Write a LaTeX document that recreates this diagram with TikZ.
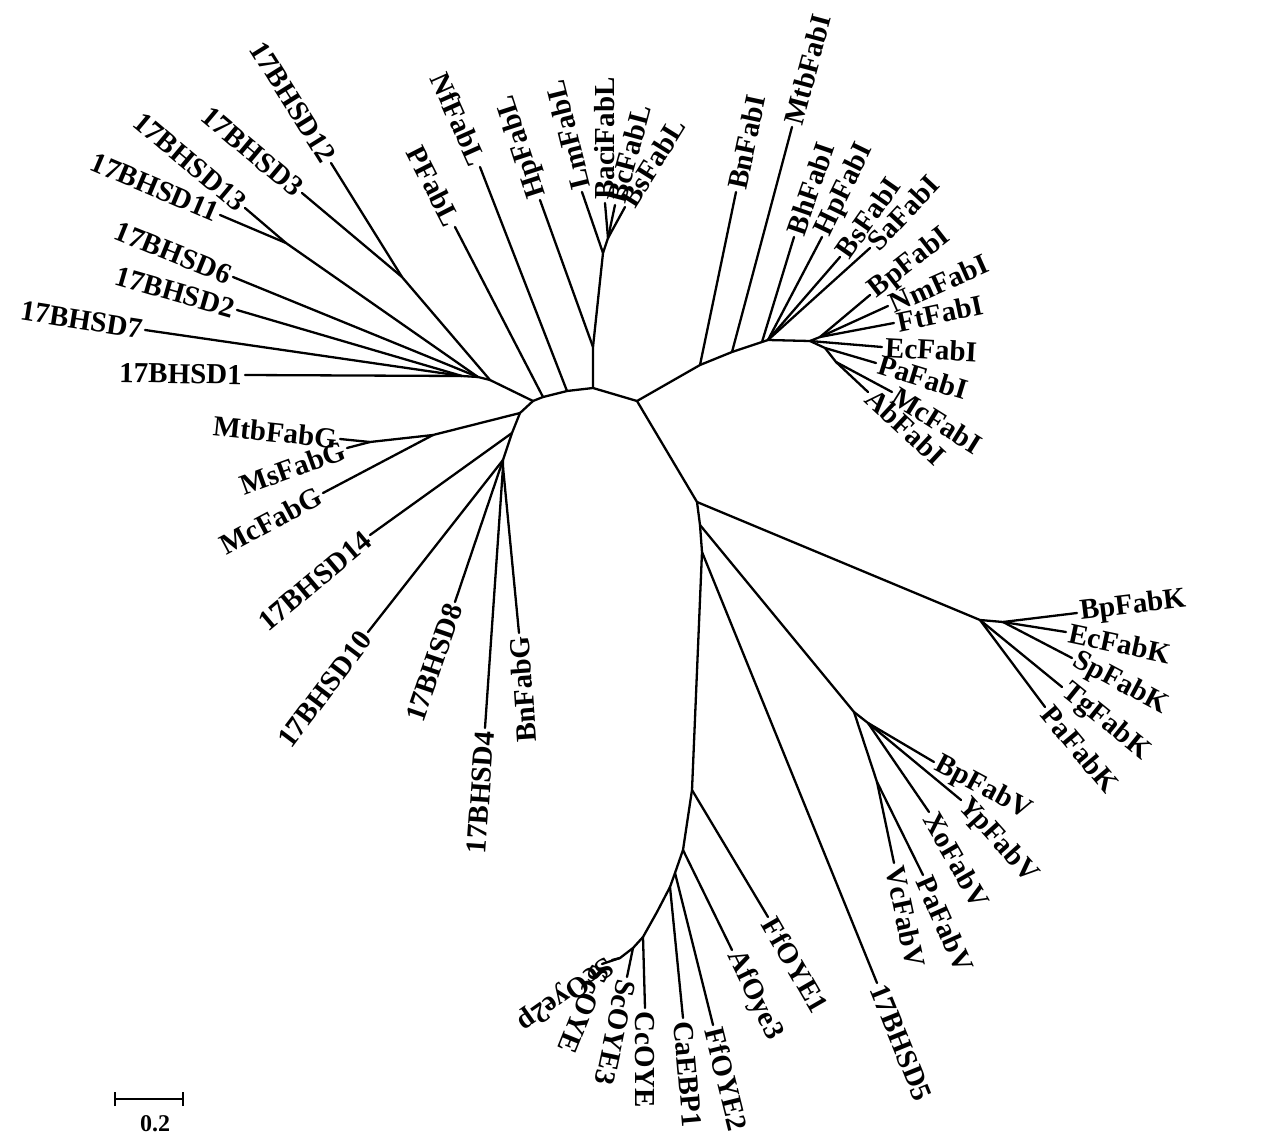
\documentclass[tikz,border=0pt]{standalone}
\usepackage{fontspec}
\setmainfont{Liberation Serif}
\begin{document}
\begin{tikzpicture}[x=1pt,y=-1pt,
  br/.style={line width=2.3pt,line cap=round,line join=round},
  lw/.style={font=\bfseries\fontsize{29}{30}\selectfont,inner sep=3pt,anchor=west},
  le/.style={font=\bfseries\fontsize{29}{30}\selectfont,inner sep=3pt,anchor=east}]
\useasboundingbox (0,0) rectangle (1280,1137);
% ---------- internal nodes ----------
\coordinate (n1) at (533,401); \coordinate (n2) at (543,397);
\coordinate (n3) at (567,391); \coordinate (n4) at (593,388);
\coordinate (n5) at (637,401);
% left cluster
\coordinate (h1) at (490,380); \coordinate (a12) at (402,277);
\coordinate (h2) at (478,377); \coordinate (a13) at (286,243);
\coordinate (h3) at (462,376);
\coordinate (t12) at (331,163); \coordinate (t3) at (302,193);
\coordinate (t13) at (245,208); \coordinate (t11) at (220,215);
\coordinate (t6) at (233,277); \coordinate (t2) at (237,310);
\coordinate (t7) at (145,330); \coordinate (t1) at (245,375);
% FabL
\coordinate (FL1) at (593,347); \coordinate (FL2) at (603,253);
\coordinate (FL3) at (608,238);
\coordinate (tPF) at (455,227); \coordinate (tNf) at (480,167);
\coordinate (tHpL) at (540,200); \coordinate (tLm) at (582,192);
\coordinate (tBaci) at (605,203); \coordinate (tBc) at (615,205);
\coordinate (tBsL) at (625,207);
% FabI
\coordinate (f1) at (700,365); \coordinate (f2) at (732,352);
\coordinate (f3) at (762,342); \coordinate (f4) at (768,340);
\coordinate (I0) at (810,341); \coordinate (Iu) at (820,337);
\coordinate (Il) at (825,348); \coordinate (Im) at (836,362);
\coordinate (tBnI) at (736,192); \coordinate (tMtbI) at (792,127);
\coordinate (tBhI) at (794,237); \coordinate (tHpI) at (822,237);
\coordinate (tBsI) at (840,257); \coordinate (tSaI) at (870,248);
\coordinate (tBpI) at (870,295); \coordinate (tNmI) at (888,306);
\coordinate (tFtI) at (894,323); \coordinate (tEcI) at (882,347);
\coordinate (tPaI) at (876,363); \coordinate (tMcI) at (892,392);
\coordinate (tAbI) at (868,392);
% FabG and lower left
\coordinate (g1) at (520,413); \coordinate (g2) at (433,435);
\coordinate (g3) at (370,442); \coordinate (g4) at (512,433);
\coordinate (g5) at (503,460); \coordinate (g6) at (503,467);
\coordinate (tMtbG) at (340,439); \coordinate (tMsG) at (347,448);
\coordinate (tMcG) at (323,493); \coordinate (t14) at (370,535);
\coordinate (t10) at (368,632); \coordinate (t8) at (455,602);
\coordinate (t4) at (485,728); \coordinate (tBnG) at (519,633);
% right / bottom
\coordinate (K0) at (697,502); \coordinate (K1) at (700,525);
\coordinate (K2) at (702,552); \coordinate (K3) at (692,790);
\coordinate (K4) at (683,850); \coordinate (K5) at (675,873);
\coordinate (K6) at (670,887); \coordinate (Km) at (657,912);
\coordinate (K7) at (643,937); \coordinate (K8) at (633,948);
\coordinate (K9) at (620,958);
\coordinate (KF) at (980,620); \coordinate (KF2) at (1003,622);
\coordinate (tBpK) at (1077,613); \coordinate (tEcK) at (1066,632);
\coordinate (tSpK) at (1072,658); \coordinate (tTgK) at (1062,687);
\coordinate (tPaK) at (1045,707);
\coordinate (V0) at (854,712); \coordinate (V1) at (868,723);
\coordinate (V2) at (877,782);
\coordinate (tBpV) at (934,762); \coordinate (tYpV) at (961,800);
\coordinate (tXoV) at (929,812); \coordinate (tPaV) at (923,875);
\coordinate (tVcV) at (894,863);
\coordinate (t5) at (877,983); \coordinate (tFfO1) at (768,917);
\coordinate (tAf3) at (732,950); \coordinate (tFfO2) at (713,1025);
\coordinate (tCa) at (683,1018); \coordinate (tCc) at (645,1008);
\coordinate (tSc3) at (627,977); \coordinate (tScO) at (602,964);
\coordinate (tSc2p) at (612,960);
% scale bar
\coordinate (s1) at (115,1099); \coordinate (s2) at (183,1099);

% ---------- branches ----------
\draw[br] (n1) -- (n2) -- (n3) -- (n4) -- (n5);
\draw[br] (n1) -- (h1) -- (a12) -- (t12); \draw[br] (a12) -- (t3);
\draw[br] (h1) -- (h2) -- (a13) -- (t13); \draw[br] (a13) -- (t11);
\draw[br] (h2) -- (t6); \draw[br] (h2) -- (h3) -- (t2);
\draw[br] (h3) -- (t7); \draw[br] (h3) -- (t1);
\draw[br] (n2) -- (tPF); \draw[br] (n3) -- (tNf);
\draw[br] (n4) -- (FL1) -- (FL2) -- (FL3) -- (tBaci);
\draw[br] (FL1) -- (tHpL); \draw[br] (FL2) -- (tLm);
\draw[br] (FL3) -- (tBc); \draw[br] (FL3) -- (tBsL);
\draw[br] (n5) -- (f1) -- (f2) -- (f3) -- (f4) -- (I0);
\draw[br] (f1) -- (tBnI); \draw[br] (f2) -- (tMtbI); \draw[br] (f3) -- (tBhI);
\draw[br] (f4) -- (tHpI); \draw[br] (f4) -- (tBsI); \draw[br] (f4) -- (tSaI);
\draw[br] (I0) -- (Iu) -- (tBpI); \draw[br] (Iu) -- (tNmI); \draw[br] (Iu) -- (tFtI);
\draw[br] (I0) -- (tEcI); \draw[br] (I0) -- (Il) -- (tPaI);
\draw[br] (Il) -- (Im) -- (tMcI); \draw[br] (Im) -- (tAbI);
\draw[br] (n1) -- (g1) -- (g4) -- (g5) -- (g6) -- (t4);
\draw[br] (g1) -- (g2) -- (g3) -- (tMtbG); \draw[br] (g3) -- (tMsG);
\draw[br] (g2) -- (tMcG); \draw[br] (g4) -- (t14);
\draw[br] (g5) -- (t10); \draw[br] (g5) -- (t8); \draw[br] (g6) -- (tBnG);
\draw[br] (n5) -- (K0) -- (K1) -- (K2) -- (K3) -- (K4) -- (K5) -- (K6) -- (Km) -- (K7) -- (K8) -- (K9) -- (tSc2p);
\draw[br] (K0) -- (KF) -- (KF2) -- (tBpK); \draw[br] (KF2) -- (tEcK);
\draw[br] (KF2) -- (tSpK); \draw[br] (KF) -- (tTgK); \draw[br] (KF) -- (tPaK);
\draw[br] (K1) -- (V0) -- (V1) -- (tBpV); \draw[br] (V1) -- (tYpV);
\draw[br] (V1) -- (tXoV); \draw[br] (V0) -- (V2) -- (tPaV); \draw[br] (V2) -- (tVcV);
\draw[br] (K2) -- (t5); \draw[br] (K3) -- (tFfO1); \draw[br] (K4) -- (tAf3);
\draw[br] (K5) -- (tFfO2); \draw[br] (K6) -- (tCa); \draw[br] (K7) -- (tCc);
\draw[br] (K8) -- (tSc3); \draw[br] (K9) -- (tScO);

% ---------- labels ----------
\node[le,rotate=-58] (L12) at (t12) {17BHSD12};
\node[le,rotate=-40] (L3) at (t3) {17BHSD3};
\node[le,rotate=-40] (L13) at (t13) {17BHSD13};
\node[le,rotate=-23] (L11) at (t11) {17BHSD11};
\node[le,rotate=-22] (L6) at (t6) {17BHSD6};
\node[le,rotate=-16] (L2) at (t2) {17BHSD2};
\node[le,rotate=-9] (L7) at (t7) {17BHSD7};
\node[le,rotate=-1] (L1) at (t1) {17BHSD1};
\node[le,rotate=-63] (LPF) at (tPF) {PFabL};
\node[le,rotate=-66] (LNf) at (tNf) {NfFabL};
\node[lw,rotate=108] (LHpL) at (tHpL) {HpFabL};
\node[lw,rotate=104] (LLm) at (tLm) {LmFabL};
\node[lw,rotate=90] (LBaci) at (tBaci) {BaciFabL};
\node[lw,rotate=75] (LBc) at (tBc) {BcFabL};
\node[lw,rotate=58] (LBsL) at (tBsL) {BsFabL};
\node[lw,rotate=78] (LBnI) at (tBnI) {BnFabI};
\node[lw,rotate=75] (LMtbI) at (tMtbI) {MtbFabI};
\node[lw,rotate=71] (LBhI) at (tBhI) {BhFabI};
\node[lw,rotate=64] (LHpI) at (tHpI) {HpFabI};
\node[lw,rotate=55] (LBsI) at (tBsI) {BsFabI};
\node[lw,rotate=47] (LSaI) at (tSaI) {SaFabI};
\node[lw,rotate=38] (LBpI) at (tBpI) {BpFabI};
\node[lw,rotate=24] (LNmI) at (tNmI) {NmFabI};
\node[lw,rotate=12] (LFtI) at (tFtI) {FtFabI};
\node[lw,rotate=-3] (LEcI) at (tEcI) {EcFabI};
\node[lw,rotate=-17] (LPaI) at (tPaI) {PaFabI};
\node[lw,rotate=-32] (LMcI) at (tMcI) {McFabI};
\node[lw,rotate=-43] (LAbI) at (tAbI) {AbFabI};
\node[le,rotate=-6] (LMtbG) at (tMtbG) {MtbFabG};
\node[le,rotate=20] (LMsG) at (tMsG) {MsFabG};
\node[le,rotate=28] (LMcG) at (tMcG) {McFabG};
\node[le,rotate=40] (L14) at (t14) {17BHSD14};
\node[le,rotate=53] (L10) at (t10) {17BHSD10};
\node[le,rotate=71] (L8) at (t8) {17BHSD8};
\node[le,rotate=86] (L4) at (t4) {17BHSD4};
\node[le,rotate=94] (LBnG) at (tBnG) {BnFabG};
\node[lw,rotate=7] (LBpK) at (tBpK) {BpFabK};
\node[lw,rotate=-12] (LEcK) at (tEcK) {EcFabK};
\node[lw,rotate=-28] (LSpK) at (tSpK) {SpFabK};
\node[lw,rotate=-39] (LTgK) at (tTgK) {TgFabK};
\node[lw,rotate=-50] (LPaK) at (tPaK) {PaFabK};
\node[lw,rotate=-28] (LBpV) at (tBpV) {BpFabV};
\node[lw,rotate=-48] (LYpV) at (tYpV) {YpFabV};
\node[lw,rotate=-60] (LXoV) at (tXoV) {XoFabV};
\node[lw,rotate=-66] (LPaV) at (tPaV) {PaFabV};
\node[lw,rotate=-78] (LVcV) at (tVcV) {VcFabV};
\node[lw,rotate=-68] (L5) at (t5) {17BHSD5};
\node[lw,rotate=-60] (LFfO1) at (tFfO1) {FfOYE1};
\node[lw,rotate=-64] (LAf3) at (tAf3) {AfOye3};
\node[lw,rotate=-76] (LFfO2) at (tFfO2) {FfOYE2};
\node[lw,rotate=-85] (LCa) at (tCa) {CaEBP1};
\node[lw,rotate=-90] (LCc) at (tCc) {CcOYE};
\node[lw,rotate=-102] (LSc3) at (tSc3) {ScOYE3};
\node[lw,rotate=-112] (LScO) at (tScO) {ScOYE};
\node[lw,rotate=-145] (LSc2p) at (tSc2p) {ScOye2p};

% ---------- scale bar ----------
\draw[line width=1.3pt] (s1) -- (s2);
\draw[line width=1.3pt] ([yshift=-7pt]s1) -- ([yshift=7pt]s1);
\draw[line width=1.3pt] ([yshift=-7pt]s2) -- ([yshift=7pt]s2);
\node[font=\bfseries\fontsize{24}{26}\selectfont,inner sep=0pt] (sl) at (155,1124) {0.2};
\end{tikzpicture}
\end{document}
